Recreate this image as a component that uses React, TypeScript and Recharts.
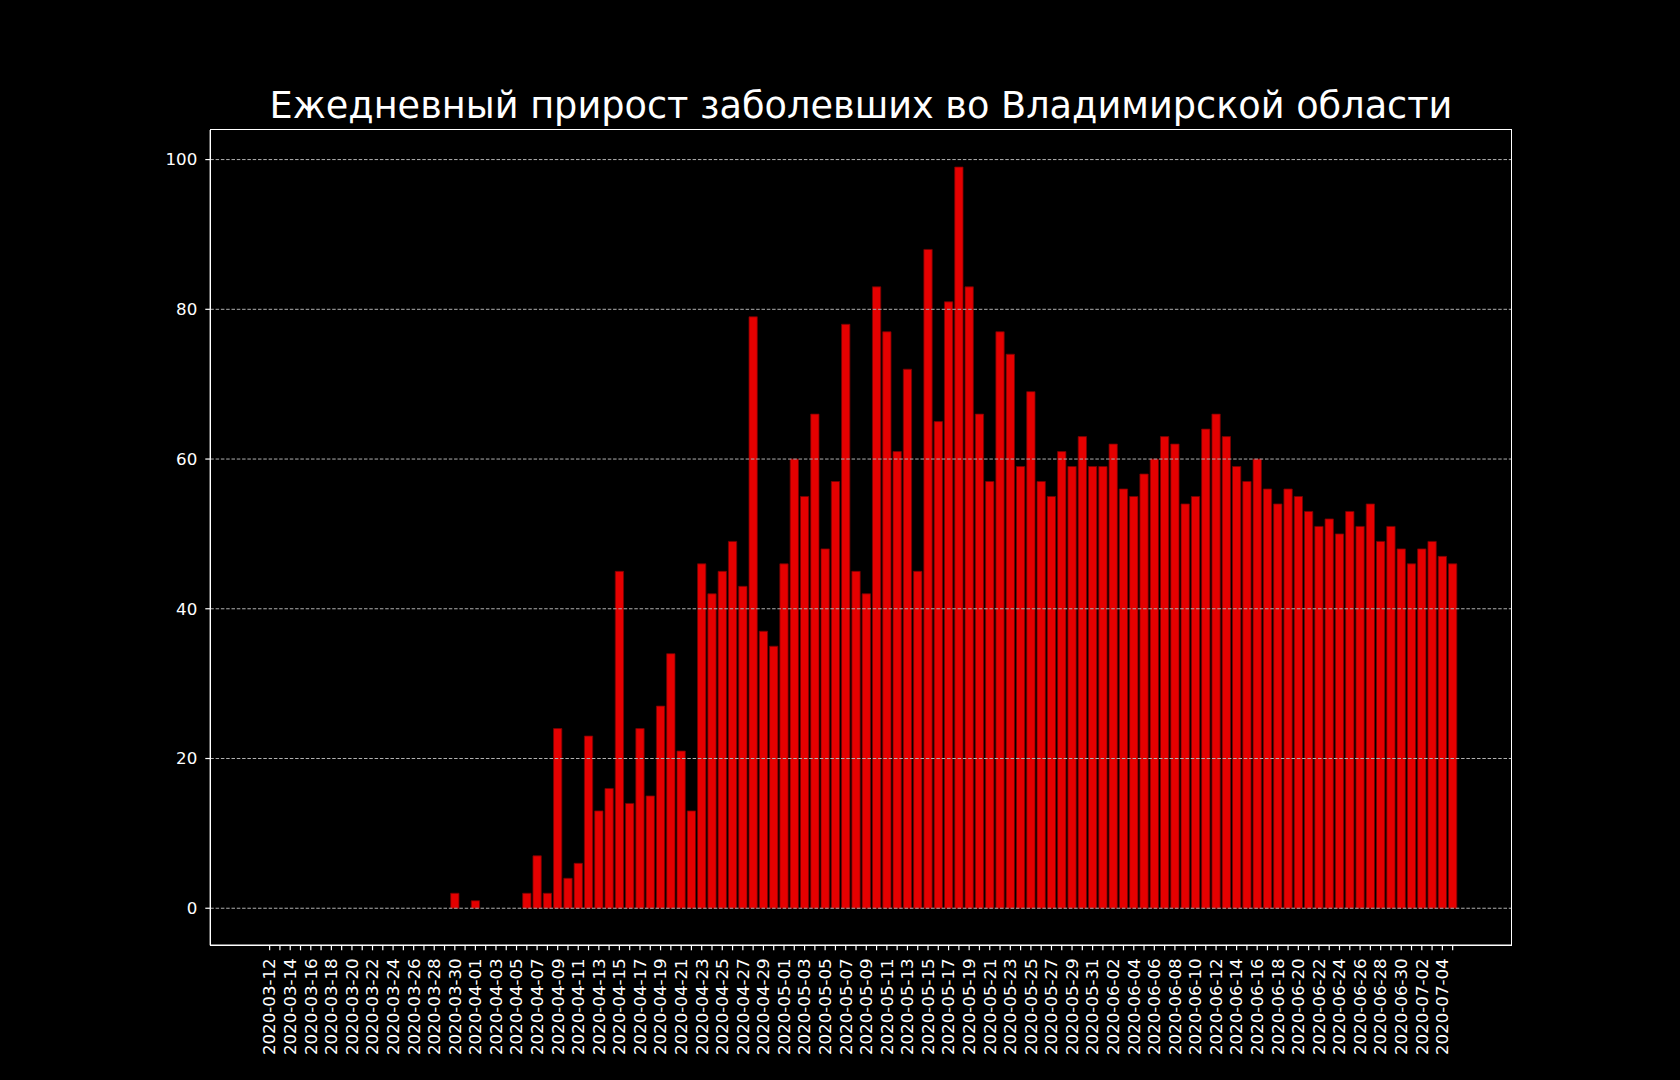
import React from 'react';
import { BarChart, Bar, XAxis, YAxis, ReferenceLine } from 'recharts';

const title = 'Ежедневный прирост заболевших во Владимирской области';

const dates: string[] = [
  '2020-03-12', '2020-03-13', '2020-03-14', '2020-03-15', '2020-03-16', '2020-03-17', '2020-03-18', '2020-03-19', '2020-03-20', '2020-03-21',
  '2020-03-22', '2020-03-23', '2020-03-24', '2020-03-25', '2020-03-26', '2020-03-27', '2020-03-28', '2020-03-29', '2020-03-30', '2020-03-31',
  '2020-04-01', '2020-04-02', '2020-04-03', '2020-04-04', '2020-04-05', '2020-04-06', '2020-04-07', '2020-04-08', '2020-04-09', '2020-04-10',
  '2020-04-11', '2020-04-12', '2020-04-13', '2020-04-14', '2020-04-15', '2020-04-16', '2020-04-17', '2020-04-18', '2020-04-19', '2020-04-20',
  '2020-04-21', '2020-04-22', '2020-04-23', '2020-04-24', '2020-04-25', '2020-04-26', '2020-04-27', '2020-04-28', '2020-04-29', '2020-04-30',
  '2020-05-01', '2020-05-02', '2020-05-03', '2020-05-04', '2020-05-05', '2020-05-06', '2020-05-07', '2020-05-08', '2020-05-09', '2020-05-10',
  '2020-05-11', '2020-05-12', '2020-05-13', '2020-05-14', '2020-05-15', '2020-05-16', '2020-05-17', '2020-05-18', '2020-05-19', '2020-05-20',
  '2020-05-21', '2020-05-22', '2020-05-23', '2020-05-24', '2020-05-25', '2020-05-26', '2020-05-27', '2020-05-28', '2020-05-29', '2020-05-30',
  '2020-05-31', '2020-06-01', '2020-06-02', '2020-06-03', '2020-06-04', '2020-06-05', '2020-06-06', '2020-06-07', '2020-06-08', '2020-06-09',
  '2020-06-10', '2020-06-11', '2020-06-12', '2020-06-13', '2020-06-14', '2020-06-15', '2020-06-16', '2020-06-17', '2020-06-18', '2020-06-19',
  '2020-06-20', '2020-06-21', '2020-06-22', '2020-06-23', '2020-06-24', '2020-06-25', '2020-06-26', '2020-06-27', '2020-06-28', '2020-06-29',
  '2020-06-30', '2020-07-01', '2020-07-02', '2020-07-03', '2020-07-04', '2020-07-05',
];

// daily new cases, one per date
const newCases: number[] = [
  0, 0, 0, 0, 0, 0, 0, 0, 0, 0,
  0, 0, 0, 0, 0, 0, 0, 0, 2, 0,
  1, 0, 0, 0, 0, 2, 7, 2, 24, 4,
  6, 23, 13, 16, 45, 14, 24, 15, 27, 34,
  21, 13, 46, 42, 45, 49, 43, 79, 37, 35,
  46, 60, 55, 66, 48, 57, 78, 45, 42, 83,
  77, 61, 72, 45, 88, 65, 81, 99, 83, 66,
  57, 77, 74, 59, 69, 57, 55, 61, 59, 63,
  59, 59, 62, 56, 55, 58, 60, 63, 62, 54,
  55, 64, 66, 63, 59, 57, 60, 56, 54, 56,
  55, 53, 51, 52, 50, 53, 51, 54, 49, 51,
  48, 46, 48, 49, 47, 46,
];

const yTicks = [0, 20, 40, 60, 80, 100];

const data = dates.map((d, i) => ({ date: d, cases: newCases[i] }));

const FONT = '"DejaVu Sans", sans-serif';

const DateTick = (props: any) => {
  const { x, y, payload, index } = props;
  const i = index ?? payload.index;
  if (i % 2 !== 0) return null;
  return (
    <g transform={`translate(${x},${y})`}>
      <text transform="rotate(-90)" textAnchor="end" dy="0.35em" fill="#ffffff" fontSize={16.67} fontFamily={FONT}>
        {payload.value}
      </text>
    </g>
  );
};

export default function App() {
  return (
    <div style={{ position: 'absolute', left: 0, top: 0, width: 1680, height: 1080, background: '#000', overflow: 'hidden' }}>
      <div style={{ position: 'absolute', left: 210, top: 84, width: 1302, textAlign: 'center', color: '#fff', fontFamily: FONT, fontSize: 36.67, lineHeight: '44px', whiteSpace: 'nowrap' }}>
        {title}
      </div>
      <BarChart
        width={1680}
        height={1080}
        data={data}
        margin={{ top: 130, right: 168, bottom: 0, left: 150.3 }}
      >
        <XAxis
          dataKey="date"
          interval={0}
          height={134.7}
          padding={{ left: 54.2, right: 54.2 }}
          tick={<DateTick />}
          tickSize={5}
          tickMargin={8}
          tickLine={{ stroke: '#fff', strokeWidth: 1.2 }}
          axisLine={{ stroke: '#fff', strokeWidth: 1.4 }}
        />
        <YAxis
          type="number"
          width={60}
          domain={[-4.95, 103.95]}
          allowDataOverflow
          ticks={yTicks}
          interval={0}
          tickSize={5}
          tickMargin={8}
          tick={{ fill: '#fff', fontSize: 16.67, fontFamily: FONT }}
          tickLine={{ stroke: '#fff', strokeWidth: 1.2 }}
          axisLine={{ stroke: '#fff', strokeWidth: 1.4 }}
        />
        <Bar dataKey="cases" barSize={8.3} fill="#e50000" stroke="#7a0000" strokeWidth={0.8} isAnimationActive={false} />
        {yTicks.map(t => (
          <ReferenceLine key={t} y={t} stroke="#b0b0b0" strokeWidth={1} strokeDasharray="3.5 1.8" />
        ))}
      </BarChart>
      <div style={{ position: 'absolute', left: 209.6, top: 129.3, width: 1302.8, height: 816.7, border: '1.4px solid #fff', boxSizing: 'border-box', pointerEvents: 'none' }} />
    </div>
  );
}
